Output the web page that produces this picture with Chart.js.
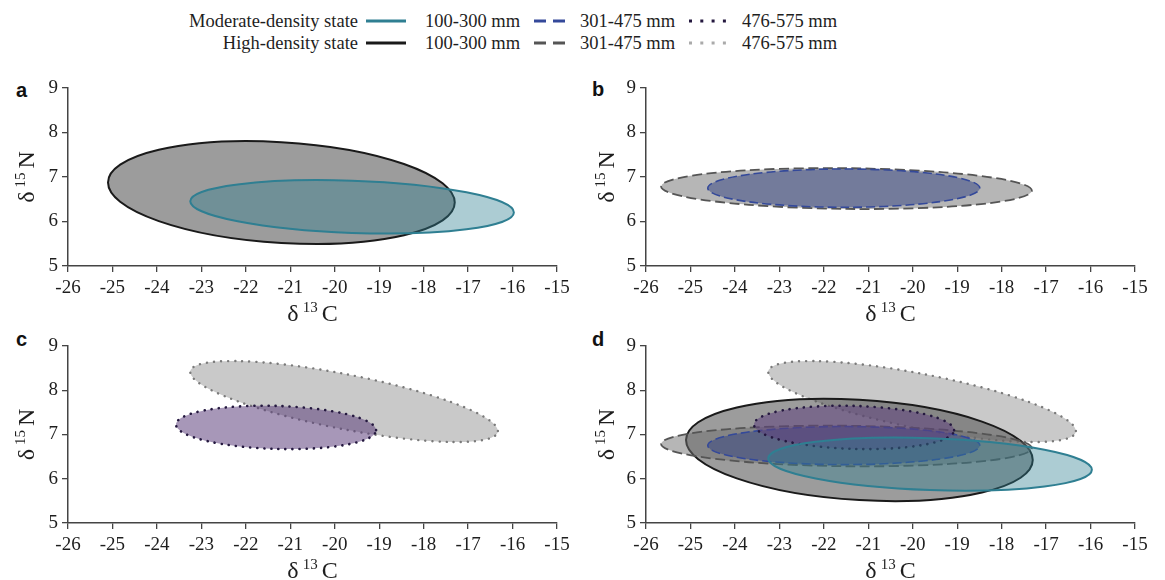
<!DOCTYPE html>
<html>
<head>
<meta charset="utf-8">
<script src="https://cdn.jsdelivr.net/npm/chart.js@4.4.1/dist/chart.umd.min.js"></script>
<style>
    body { margin: 0; background: #fff; }
    #page { position: relative; width: 1165px; height: 580px; overflow: hidden; font-family: 'Liberation Serif', 'Times New Roman', serif; color: #1e1e1e; }
    .panel { position: absolute; }
    .lg { position: absolute; font-size: 18.5px; line-height: 22px; white-space: nowrap; }
    .lg.right { text-align: right; }
    .swatch { position: absolute; }
    .tag { position: absolute; font: bold 20px 'Liberation Sans', Arial, sans-serif; line-height: 20px; color: #111; }
</style>
</head>
<body>
<div id="page">
    <div id="legend"></div>
    <div class="tag" style="left:16px;top:80px;">a</div>
    <div class="tag" style="left:592px;top:79px;">b</div>
    <div class="tag" style="left:16px;top:329px;">c</div>
    <div class="tag" style="left:592px;top:329px;">d</div>
    <canvas id="chart-a" class="panel" width="580" height="260" style="left:0;top:70px;"></canvas>
    <canvas id="chart-b" class="panel" width="585" height="260" style="left:580px;top:70px;"></canvas>
    <canvas id="chart-c" class="panel" width="580" height="250" style="left:0;top:330px;"></canvas>
    <canvas id="chart-d" class="panel" width="585" height="250" style="left:580px;top:330px;"></canvas>
</div>
<script>
    // legend text
    const densityStates = ["Moderate-density state", "High-density state"];
    const rainfallBands = ["100-300 mm", "301-475 mm", "476-575 mm"];

    // axis ticks
    const xTickLabels = ["-26", "-25", "-24", "-23", "-22", "-21", "-20", "-19", "-18", "-17", "-16", "-15"];
    const yTickLabels = ["5", "6", "7", "8", "9"];

    // ellipses (one value per rainfall band)
    // centre, half extent along each axis, and tilt (correlation)
    const moderateCenterC = [-19.61, -21.55, -21.32];
    const moderateCenterN = [6.33, 6.75, 7.16];
    const moderateHalfC = [3.64, 3.06, 2.25];
    const moderateHalfN = [0.60, 0.43, 0.49];
    const moderateTilt = [-0.21, 0.0, -0.13];

    const highCenterC = [-21.20, -21.49, -19.79];
    const highCenterN = [6.65, 6.74, 7.745];
    const highHalfC = [3.90, 4.17, 3.46];
    const highHalfN = [1.155, 0.46, 0.915];
    const highTilt = [-0.195, -0.10, -0.727];

    // look of each ellipse
    const styles = {
        moderate: [
            { stroke: "#2f7f92", fill: "rgba(47,127,146,0.40)", width: 2, dash: [], cap: "butt" },
            { stroke: "#34499a", fill: "rgba(50,65,130,0.50)", width: 1.6, dash: [9, 4], cap: "butt" },
            { stroke: "#24183f", fill: "rgba(95,65,125,0.55)", width: 2.6, dash: [0.1, 7], cap: "round" }
        ],
        high: [
            { stroke: "#1a1a1a", fill: "rgba(90,90,90,0.60)", width: 2, dash: [], cap: "butt" },
            { stroke: "#555555", fill: "rgba(110,110,110,0.50)", width: 1.8, dash: [10, 4.5], cap: "butt" },
            { stroke: "#7a7a7a", fill: "rgba(165,165,165,0.60)", width: 2.4, dash: [0.1, 7], cap: "round" }
        ]
    };

    const serif = "'Liberation Serif', 'Times New Roman', serif";
    Chart.defaults.font.family = serif;

    function ellipseOf(state, band) {
        if (state == "moderate") {
            return { cx: moderateCenterC[band], cy: moderateCenterN[band], rx: moderateHalfC[band], ry: moderateHalfN[band], r: moderateTilt[band] };
        }
        return { cx: highCenterC[band], cy: highCenterN[band], rx: highHalfC[band], ry: highHalfN[band], r: highTilt[band] };
    }

    // draw each dataset's ellipse through the chart scales
    const ellipsePlugin = {
        id: "ellipses",
        beforeDatasetsDraw(chart) {
            const ctx = chart.ctx;
            const xs = chart.scales.x, ys = chart.scales.y;
            chart.data.datasets.forEach(function (ds) {
                const e = ds.ellipse, st = ds.look;
                const px = xs.getPixelForValue(e.cx);
                const py = ys.getPixelForValue(e.cy);
                const ux = xs.getPixelForValue(e.cx + e.rx) - px;
                const vy = ys.getPixelForValue(e.cy + e.ry) - py;
                ctx.save();
                ctx.beginPath();
                ctx.save();
                ctx.translate(px, py);
                ctx.transform(ux, vy * e.r, 0, vy * Math.sqrt(1 - e.r * e.r), 0, 0);
                ctx.arc(0, 0, 1, 0, Math.PI * 2);
                ctx.restore();
                ctx.fillStyle = st.fill;
                ctx.fill();
                ctx.strokeStyle = st.stroke;
                ctx.lineWidth = st.width;
                ctx.setLineDash(st.dash);
                ctx.lineCap = st.cap;
                ctx.stroke();
                ctx.restore();
            });
        }
    };

    // δ with superscript mass number
    function drawIsotope(ctx, x, y, mass, sym, rotate) {
        ctx.save();
        ctx.translate(x, y);
        if (rotate) ctx.rotate(-Math.PI / 2);
        const big = "24px " + serif;
        const small = "15px " + serif;
        ctx.font = big;
        const wd = ctx.measureText("δ").width;
        const ws = ctx.measureText(sym).width;
        ctx.font = small;
        const wm = ctx.measureText(mass).width;
        const gap = 4;
        let x0 = -(wd + gap + wm + gap + ws) / 2;
        ctx.fillStyle = "#1e1e1e";
        ctx.textBaseline = "alphabetic";
        ctx.textAlign = "left";
        ctx.font = big;
        ctx.fillText("δ", x0, 8);
        ctx.font = small;
        ctx.fillText(mass, x0 + wd + gap, -1);
        ctx.font = big;
        ctx.fillText(sym, x0 + wd + gap + wm + gap, 8);
        ctx.restore();
    }

    const titlePlugin = {
        id: "isoTitles",
        afterDraw(chart) {
            const a = chart.chartArea;
            drawIsotope(chart.ctx, (a.left + a.right) / 2, a.bottom + 47, "13", "C", false);
            drawIsotope(chart.ctx, 26, (a.top + a.bottom) / 2, "15", "N", true);
        }
    };

    function makePanel(id, items, yWidth, xHeight, padTop, padRight) {
        const datasets = items.map(function (it) {
            const e = ellipseOf(it[0], it[1]);
            return {
                label: it[0] + " " + rainfallBands[it[1]],
                data: [{ x: e.cx, y: e.cy }],
                pointRadius: 0,
                showLine: false,
                ellipse: e,
                look: styles[it[0]][it[1]]
            };
        });
        new Chart(document.getElementById(id), {
            type: "scatter",
            data: { datasets: datasets },
            plugins: [ellipsePlugin, titlePlugin],
            options: {
                responsive: false,
                animation: false,
                devicePixelRatio: 1,
                layout: { padding: { top: padTop, right: padRight, left: 0, bottom: 0 } },
                plugins: { legend: { display: false }, tooltip: { enabled: false } },
                scales: {
                    x: {
                        type: "linear",
                        min: -26,
                        max: -15,
                        afterFit: function (scale) { scale.height = xHeight; },
                        ticks: {
                            stepSize: 1,
                            color: "#1e1e1e",
                            padding: 5,
                            font: { family: serif, size: 19 },
                            maxRotation: 0,
                            autoSkip: false,
                            callback: function (v, i) { return xTickLabels[i]; }
                        },
                        grid: { display: true, drawOnChartArea: false, drawTicks: true, tickLength: 6, color: "#444", lineWidth: 1.3 },
                        border: { display: true, color: "#444", width: 1.5 }
                    },
                    y: {
                        type: "linear",
                        min: 5,
                        max: 9,
                        afterFit: function (scale) { scale.width = yWidth; },
                        ticks: {
                            stepSize: 1,
                            color: "#1e1e1e",
                            padding: 4,
                            font: { family: serif, size: 19 },
                            callback: function (v, i) { return yTickLabels[i]; }
                        },
                        grid: { display: true, drawOnChartArea: false, drawTicks: true, tickLength: 6, color: "#444", lineWidth: 1.3 },
                        border: { display: true, color: "#444", width: 1.5 }
                    }
                }
            }
        });
    }

    makePanel("chart-a", [["high", 0], ["moderate", 0]], 68, 64, 18, 23);
    makePanel("chart-b", [["high", 1], ["moderate", 1]], 66, 64, 18, 30);
    makePanel("chart-c", [["high", 2], ["moderate", 2]], 68, 57, 16, 23);
    makePanel("chart-d", [["high", 2], ["high", 0], ["high", 1], ["moderate", 1], ["moderate", 2], ["moderate", 0]], 66, 57, 16, 30);

    // legend at the top
    function buildLegend() {
        const box = document.getElementById("legend");
        const rowsY = [10, 32];
        const sampleX = [366, 534, 689];
        const sampleW = [40, 31, 37];
        const sampleDash = ["", "12 7", "3 8.3"];
        const textX = [425, 580, 742];
        ["moderate", "high"].forEach(function (state, r) {
            const label = document.createElement("div");
            label.className = "lg right";
            label.style.left = "100px";
            label.style.width = "258px";
            label.style.top = rowsY[r] + "px";
            label.textContent = densityStates[r];
            box.appendChild(label);
            rainfallBands.forEach(function (band, b) {
                const st = styles[state][b];
                const w = sampleW[b];
                const svg = document.createElementNS("http://www.w3.org/2000/svg", "svg");
                svg.setAttribute("width", w);
                svg.setAttribute("height", 6);
                svg.setAttribute("class", "swatch");
                svg.style.left = sampleX[b] + "px";
                svg.style.top = (rowsY[r] + 8) + "px";
                const ln = document.createElementNS("http://www.w3.org/2000/svg", "line");
                ln.setAttribute("x1", 0);
                ln.setAttribute("x2", w);
                ln.setAttribute("y1", 3);
                ln.setAttribute("y2", 3);
                ln.setAttribute("stroke", b == 2 && state == "high" ? "#aaaaaa" : st.stroke);
                ln.setAttribute("stroke-width", 3);
                if (sampleDash[b]) ln.setAttribute("stroke-dasharray", sampleDash[b]);
                svg.appendChild(ln);
                box.appendChild(svg);
                const t = document.createElement("div");
                t.className = "lg";
                t.style.left = textX[b] + "px";
                t.style.top = rowsY[r] + "px";
                t.textContent = band;
                box.appendChild(t);
            });
        });
    }
    buildLegend();
</script>
</body>
</html>
